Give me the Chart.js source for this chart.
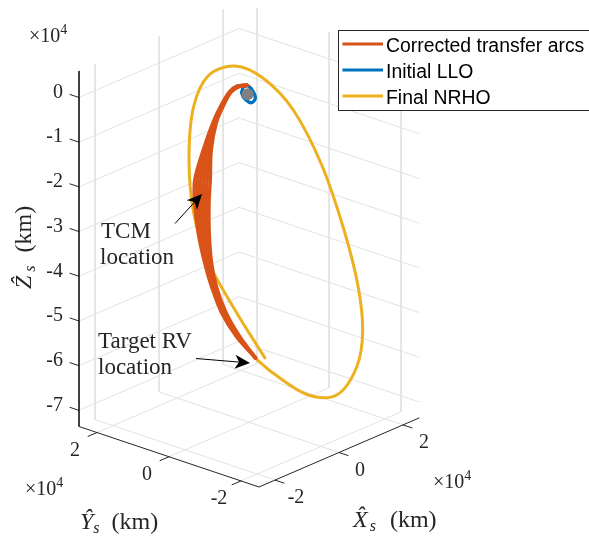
<!DOCTYPE html>
<html>
<head>
<meta charset="utf-8">
<style>
  html, body { margin: 0; padding: 0; background: #fff; overflow: hidden; }
  canvas { display: block; }
</style>
<script src="https://cdn.jsdelivr.net/npm/chart.js@4"></script>
</head>
<body>
<canvas id="orbitChart" width="589" height="536"></canvas>
<script>
// axis limits and ticks (units of 1e4 km)
const xLim = [-2.5, 2.5];
const yLim = [-2.5, 2.5];
const zLim = [-7.36, 0.59];
const xTicks = [-2, 0, 2];
const yTicks = [-2, 0, 2];
const zTicks = [0, -1, -2, -3, -4, -5, -6, -7];

// Final NRHO
const nrhoX = [0.235, -0.206, -0.610, -0.816, -0.882, -0.819, -0.599, -0.206, 0.210, 0.651, 1.069, 1.397, 1.603, 1.672, 1.584, 1.290, 0.872, 0.357, 0.113];
const nrhoY = [-0.235, 0.206, 0.610, 0.816, 0.882, 0.819, 0.599, 0.206, -0.210, -0.651, -1.069, -1.397, -1.603, -1.672, -1.584, -1.290, -0.872, -0.357, -0.113];
const nrhoZ = [-5.932, -4.841, -3.707, -2.625, -1.460, -0.299, 0.415, 0.617, 0.326, -0.400, -1.646, -3.112, -4.373, -5.382, -6.184, -6.800, -6.784, -6.279, -5.956];

// Initial LLO
const lloX = [-0.084, -0.010, 0.063, 0.093, 0.040, -0.044, -0.107, -0.084];
const lloY = [0.084, 0.010, -0.063, -0.093, -0.040, 0.044, 0.107, 0.084];
const lloZ = [0.150, 0.163, 0.032, -0.117, -0.213, -0.149, 0.003, 0.150];

// Moon
const moonX = [-0.02];
const moonY = [0.02];
const moonZ = [-0.02];

// Corrected transfer arcs, all read at the same Z levels (Y = -X in this view)
const arcZ = [0.180, 0.160, 0.039, -0.248, -0.647, -1.246, -1.915, -2.430, -3.101, -3.774, -4.315, -4.902, -5.447, -5.926];
const arcX1 = [-0.029, -0.184, -0.290, -0.408, -0.533, -0.673, -0.798, -0.798, -0.746, -0.651, -0.548, -0.401, -0.180, 0.096];
const arcX2 = [-0.029, -0.175, -0.285, -0.401, -0.523, -0.649, -0.752, -0.756, -0.714, -0.631, -0.534, -0.388, -0.171, 0.096];
const arcX3 = [-0.029, -0.166, -0.279, -0.393, -0.513, -0.626, -0.707, -0.714, -0.682, -0.611, -0.520, -0.375, -0.161, 0.096];
const arcX4 = [-0.029, -0.157, -0.273, -0.386, -0.502, -0.602, -0.661, -0.672, -0.649, -0.591, -0.506, -0.361, -0.151, 0.096];
const arcX5 = [-0.029, -0.149, -0.267, -0.379, -0.492, -0.579, -0.616, -0.630, -0.617, -0.571, -0.492, -0.348, -0.142, 0.096];
const arcX6 = [-0.029, -0.140, -0.261, -0.371, -0.482, -0.555, -0.570, -0.588, -0.585, -0.551, -0.478, -0.335, -0.132, 0.096];
const arcXs = [arcX1, arcX2, arcX3, arcX4, arcX5, arcX6];

const RED = '#D95319', BLUE = '#0072BD', YELLOW = '#EDB120';
const AXIS = '#262626', GRID = '#e2e2e2';
const SERIF = '"Liberation Serif", serif';
const SANS = '"Liberation Sans", Arial, sans-serif';

// fixed orthographic view of the 3D box onto the chart plane
function project(x, y, z) {
    return { x: 32 * x - 36 * y, y: 13.8 * x + 12.1 * y + 44.7 * z };
}
function curve(xs, ys, zs) {
    return xs.map((v, i) => project(v, ys[i], zs[i]));
}
const GAP = { x: NaN, y: NaN };

// grid lines on the two back walls and the floor
const gridPts = [];
zTicks.forEach(z => {
    gridPts.push(project(xLim[0], yLim[1], z), project(xLim[1], yLim[1], z), project(xLim[1], yLim[0], z), GAP);
});
xTicks.forEach(x => {
    gridPts.push(project(x, yLim[1], zLim[1]), project(x, yLim[1], zLim[0]), project(x, yLim[0], zLim[0]), GAP);
});
yTicks.forEach(y => {
    gridPts.push(project(xLim[1], y, zLim[1]), project(xLim[1], y, zLim[0]), project(xLim[0], y, zLim[0]), GAP);
});

// axis lines and tick marks
const axisPts = [
    project(xLim[0], yLim[1], zLim[1]), project(xLim[0], yLim[1], zLim[0]),
    project(xLim[0], yLim[0], zLim[0]), project(xLim[1], yLim[0], zLim[0]), GAP
];
zTicks.forEach(z => axisPts.push(project(xLim[0], yLim[1], z), project(xLim[0], yLim[1] + 0.25, z), GAP));
xTicks.forEach(x => axisPts.push(project(x, yLim[0], zLim[0]), project(x, yLim[0] - 0.25, zLim[0]), GAP));
yTicks.forEach(y => axisPts.push(project(xLim[0], y, zLim[0]), project(xLim[0] - 0.28, y, zLim[0]), GAP));

function lineSet(label, data, color, width, order, tension) {
    return {
        label, data, order,
        showLine: true,
        borderColor: color,
        backgroundColor: color,
        borderWidth: width,
        pointRadius: 0,
        tension: tension || 0,
        spanGaps: false,
        borderCapStyle: 'round'
    };
}

const datasets = [
    lineSet('grid', gridPts, GRID, 1, 10),
    lineSet('axes', axisPts, AXIS, 1, 9),
    lineSet('Final NRHO', curve(nrhoX, nrhoY, nrhoZ), YELLOW, 3, 8, 0.34),
    lineSet('Initial LLO', curve(lloX, lloY, lloZ), BLUE, 3.3, 7, 0.34),
    {
        label: 'moon', data: curve(moonX, moonY, moonZ), order: 6, showLine: false,
        pointRadius: 6, pointBackgroundColor: '#808080', pointBorderWidth: 0
    }
];
arcXs.forEach((xs, i) => {
    const ys = xs.map(v => -v);
    datasets.push(lineSet(i === 0 ? 'Corrected transfer arcs' : 'arc' + (i + 1), curve(xs, ys, arcZ), RED, 3.5, 5 - i * 0.1, 0.33));
});

// text made of differently styled pieces, laid out from a start point
function drawRuns(ctx, runs, x, y, angle) {
    ctx.save();
    ctx.translate(x, y);
    ctx.rotate(angle || 0);
    ctx.textAlign = 'left';
    ctx.textBaseline = 'alphabetic';
    ctx.fillStyle = AXIS;
    let pos = 0;
    runs.forEach(r => {
        ctx.font = r.font;
        ctx.fillText(r.text, pos, r.dy || 0);
        pos += ctx.measureText(r.text).width + (r.pad || 0);
    });
    ctx.restore();
}
function exponent(ctx, x, y) {
    drawRuns(ctx, [
        { text: '×10', font: '20px ' + SERIF },
        { text: '4', font: '14px ' + SERIF, dy: -8 }
    ], x, y);
}
function axisLabel(ctx, letter, letterPad, sPad, x, y, angle) {
    drawRuns(ctx, [
        { text: letter, font: 'italic 24px ' + SERIF, pad: letterPad },
        { text: 's', font: 'italic 16px ' + SERIF, dy: 4, pad: sPad },
        { text: '(km)', font: '24px ' + SERIF }
    ], x, y, angle);
}
function arrow(ctx, x0, y0, x1, y1) {
    const a = Math.atan2(y1 - y0, x1 - x0);
    ctx.save();
    ctx.strokeStyle = '#000';
    ctx.fillStyle = '#000';
    ctx.lineWidth = 1;
    ctx.beginPath();
    ctx.moveTo(x0, y0);
    ctx.lineTo(x1 - 8 * Math.cos(a), y1 - 8 * Math.sin(a));
    ctx.stroke();
    ctx.translate(x1, y1);
    ctx.rotate(a);
    ctx.beginPath();
    ctx.moveTo(0, 0);
    ctx.lineTo(-15, -7);
    ctx.lineTo(-11, 0);
    ctx.lineTo(-15, 7);
    ctx.closePath();
    ctx.fill();
    ctx.restore();
}

const overlay = {
    id: 'overlay',
    afterDatasetsDraw(chart) {
        const ctx = chart.ctx;
        const sx = chart.scales.x, sy = chart.scales.y;
        const px = p => ({ x: sx.getPixelForValue(p.x), y: sy.getPixelForValue(p.y) });

        // tick labels
        ctx.save();
        ctx.font = '20px ' + SERIF;
        ctx.fillStyle = AXIS;
        ctx.textBaseline = 'middle';
        ctx.textAlign = 'right';
        zTicks.forEach(z => {
            const p = px(project(xLim[0], yLim[1], z));
            ctx.fillText(String(z), p.x - 16, p.y - 5);
        });
        ctx.textAlign = 'center';
        xTicks.forEach(x => {
            const p = px(project(x, yLim[0], zLim[0]));
            ctx.fillText(String(x), p.x + 21, p.y + 18);
        });
        yTicks.forEach(y => {
            const p = px(project(xLim[0], y, zLim[0]));
            ctx.fillText(String(y), p.x - 22, p.y + 18);
        });
        ctx.restore();

        exponent(ctx, 29, 42);
        exponent(ctx, 25, 495);
        exponent(ctx, 433, 488);
        axisLabel(ctx, 'X\u0302', 2, 14, 353, 527);
        axisLabel(ctx, 'Y\u0302', 0, 12, 80, 529);
        axisLabel(ctx, 'Z\u0302', 4, 13, 31, 289, -Math.PI / 2);

        // annotations
        drawRuns(ctx, [{ text: 'TCM', font: '23px ' + SERIF }], 101, 238);
        drawRuns(ctx, [{ text: 'location', font: '23px ' + SERIF }], 100, 264);
        drawRuns(ctx, [{ text: 'Target RV', font: '23px ' + SERIF }], 98, 348);
        drawRuns(ctx, [{ text: 'location', font: '23px ' + SERIF }], 98, 374);
        arrow(ctx, 175, 223.5, 202, 194);
        arrow(ctx, 196, 358.5, 250, 363);

        // legend, taken from the dataset labels
        ctx.save();
        ctx.fillStyle = '#fff';
        ctx.strokeStyle = AXIS;
        ctx.lineWidth = 1;
        ctx.fillRect(338.5, 30.5, 260, 80);
        ctx.strokeRect(338.5, 30.5, 260, 80);
        const names = ['Corrected transfer arcs', 'Initial LLO', 'Final NRHO'];
        [44, 70, 96].forEach((ly, i) => {
            const ds = chart.data.datasets.find(d => d.label === names[i]);
            ctx.strokeStyle = ds.borderColor;
            ctx.lineWidth = 2.8;
            ctx.beginPath();
            ctx.moveTo(342.5, ly);
            ctx.lineTo(383, ly);
            ctx.stroke();
            ctx.fillStyle = '#000';
            ctx.font = '19.4px ' + SANS;
            ctx.textAlign = 'left';
            ctx.textBaseline = 'alphabetic';
            ctx.fillText(ds.label, 386, ly + 8);
        });
        ctx.restore();
    }
};

new Chart(document.getElementById('orbitChart').getContext('2d'), {
    type: 'scatter',
    data: { datasets },
    plugins: [overlay],
    options: {
        responsive: false,
        animation: false,
        events: [],
        layout: { padding: 0, autoPadding: false },
        plugins: { legend: { display: false }, tooltip: { enabled: false } },
        scales: {
            x: { type: 'linear', display: false, min: -249, max: 340 },
            y: { type: 'linear', display: false, min: -442.75, max: 93.25 }
        }
    }
});
</script>
</body>
</html>
